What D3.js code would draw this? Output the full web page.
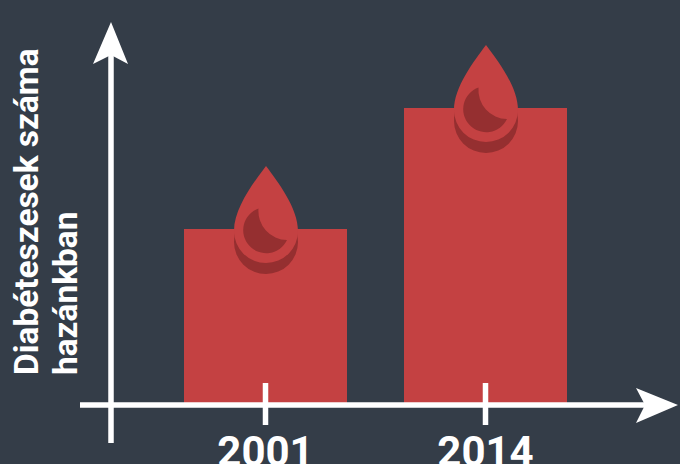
<!DOCTYPE html>
<html>
<head>
<meta charset="utf-8">
<script src="https://cdn.jsdelivr.net/npm/d3@7"></script>
<style>
  html, body { margin: 0; padding: 0; background: #343d48; overflow: hidden; }
  svg { display: block; }
</style>
</head>
<body>
<div id="chart"></div>
<script>
// no numbers on the y axis, so values are read as bar heights
const years = ["2001", "2014"];
const cases = [174, 295];
const yLabelLines = ["Diabéteszesek száma", "hazánkban"];

const width = 680, height = 464;
const baseline = 403;
const red = "#c44142", dark = "#952f30", white = "#fff";

const svg = d3.select("#chart")
              .append("svg")
              .attr("width", width)
              .attr("height", height);

const x = d3.scaleBand()
            .domain(years)
            .range([184, 567])
            .paddingInner(57 / 220)
            .paddingOuter(0);

const y = d3.scaleLinear()
            .domain([0, 300])
            .range([baseline, baseline - 300]);

const data = years.map((d, i) => ({year: d, value: cases[i]}));

svg.append("g")
   .selectAll("rect")
   .data(data)
   .enter().append("rect")
   .attr("x", d => x(d.year))
   .attr("y", d => y(d.value))
   .attr("width", x.bandwidth())
   .attr("height", d => baseline - y(d.value))
   .attr("fill", red);

// drop icon, origin at the tip
const dropPath = "M0,0 C12,16 32,42 32,65 A32,32 0 0 1 -32,65 C-32,42 -12,16 0,0 Z";
const moonPath = "M-7.5,42.5 A23,23 0 1 0 21,74 A29,29 0 0 1 -7.5,42.5 Z";
const drops = svg.append("g")
                 .selectAll("g")
                 .data(data)
                 .enter().append("g")
                 .attr("transform", d => `translate(${x(d.year) + x.bandwidth() / 2 + 0.5},${y(d.value) - 63})`);

drops.append("path").attr("d", dropPath).attr("transform", "translate(0,11)").attr("fill", dark);
drops.append("path").attr("d", dropPath).attr("fill", red);
drops.append("path").attr("d", moonPath).attr("fill", dark);

// axes
const xAxis = svg.append("g")
                 .attr("transform", "translate(0,405)")
                 .call(d3.axisBottom(x).tickSize(0));
xAxis.select(".domain").remove();
xAxis.selectAll(".tick line")
     .attr("y1", -22)
     .attr("y2", 20)
     .attr("stroke", white)
     .attr("stroke-width", 5.5);
xAxis.selectAll(".tick text")
     .attr("y", 60.5)
     .attr("dy", 0)
     .attr("fill", white)
     .attr("font-family", "Roboto, sans-serif")
     .attr("font-weight", "bold")
     .attr("font-size", 42);

svg.append("line")
   .attr("x1", 80).attr("x2", 650).attr("y1", 405).attr("y2", 405)
   .attr("stroke", white).attr("stroke-width", 5.5);
svg.append("path")
   .attr("d", "M678,405 L636,388 L645,405 L636,423 Z")
   .attr("fill", white);

svg.append("line")
   .attr("x1", 111).attr("x2", 111).attr("y1", 50).attr("y2", 443)
   .attr("stroke", white).attr("stroke-width", 5.5);
svg.append("path")
   .attr("d", "M111,22 L93,64 L111,55 L128,64 Z")
   .attr("fill", white);

svg.append("g")
   .selectAll("text")
   .data(yLabelLines)
   .enter().append("text")
   .attr("transform", (d, i) => `translate(${38 + i * 38.5},375) rotate(-90)`)
   .attr("fill", white)
   .attr("font-family", "Roboto, sans-serif")
   .attr("font-weight", "bold")
   .attr("font-size", 33.4)
   .text(d => d);
</script>
</body>
</html>
